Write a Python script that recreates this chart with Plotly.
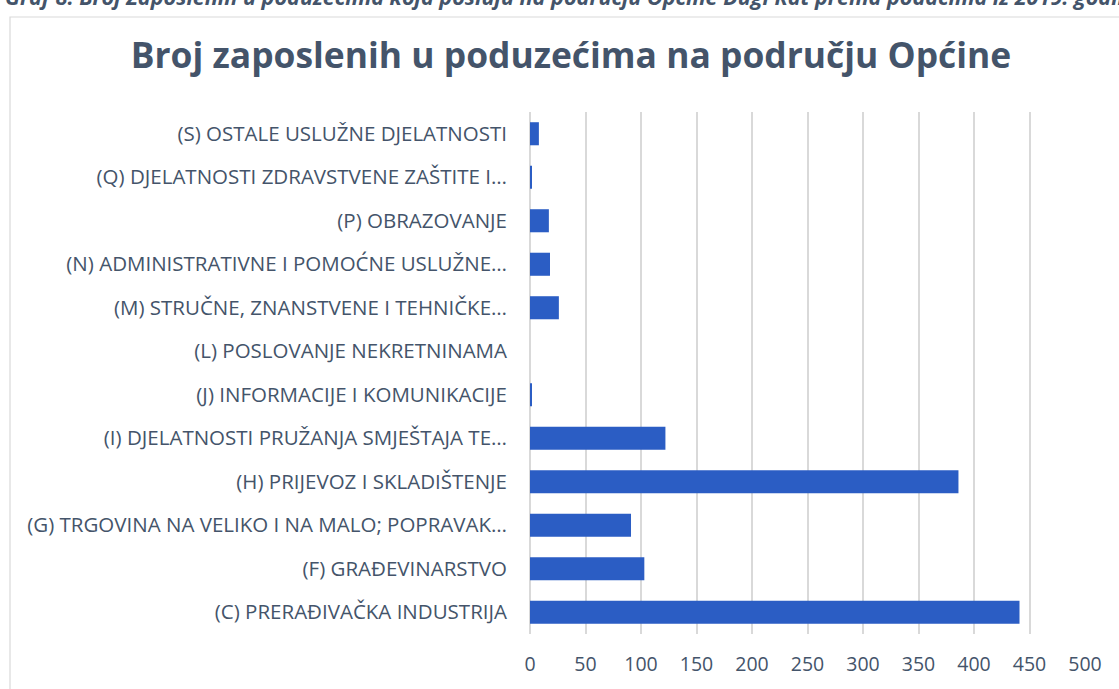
import plotly.graph_objects as go

categories = [
    "(C) PRERAĐIVAČKA INDUSTRIJA",
    "(F) GRAĐEVINARSTVO",
    "(G) TRGOVINA NA VELIKO I NA MALO; POPRAVAK…",
    "(H) PRIJEVOZ I SKLADIŠTENJE",
    "(I) DJELATNOSTI PRUŽANJA SMJEŠTAJA TE…",
    "(J) INFORMACIJE I KOMUNIKACIJE",
    "(L) POSLOVANJE NEKRETNINAMA",
    "(M) STRUČNE, ZNANSTVENE I TEHNIČKE…",
    "(N) ADMINISTRATIVNE I POMOĆNE USLUŽNE…",
    "(P) OBRAZOVANJE",
    "(Q) DJELATNOSTI ZDRAVSTVENE ZAŠTITE I…",
    "(S) OSTALE USLUŽNE DJELATNOSTI",
]
values = [441, 103, 91, 386, 122, 1, 0, 26, 18, 17, 1, 8]
x_ticks = [0, 50, 100, 150, 200, 250, 300, 350, 400, 450, 500]

title_text = "Broj zaposlenih u poduzećima na području Općine"
caption_text = ("Graf 8. Broj Zaposlenih u poduzećima koja posluju na području Općine "
                "Dugi Rat prema podacima iz 2019. godine")

TXT = "#44546A"
GRID = "#D9D9D9"
FONT = "'Open Sans', sans-serif"

W, H = 1119, 689
L, R, T, B = 530, 34, 112, 55
pw, ph = W - L - R, H - T - B

def px_x(p):
    return (p - L) / pw

def px_y(p):
    return (H - B - p) / ph

fig = go.Figure(go.Bar(
    x=values,
    y=categories,
    orientation="h",
    marker=dict(color="#2B5DC4", line=dict(width=0)),
    hoverinfo="x+y",
))

fig.update_layout(
    width=W, height=H,
    margin=dict(l=L, r=R, t=T, b=B, autoexpand=False),
    paper_bgcolor="white",
    plot_bgcolor="white",
    bargap=0.47,
    showlegend=False,
    font=dict(family=FONT, color=TXT),
    title=dict(
        text="<b>" + title_text + "</b>",
        x=px_x(571), xref="paper", xanchor="center",
        y=1 - 56 / H, yref="container", yanchor="middle",
        font=dict(size=35.4, color=TXT, family=FONT),
    ),
    xaxis=dict(
        range=[0, 500],
        tickvals=x_ticks,
        showgrid=True, gridcolor=GRID, gridwidth=1.5,
        zeroline=True, zerolinecolor=GRID, zerolinewidth=1.5,
        showline=False,
        ticks="", ticklabelstandoff=16,
        tickfont=dict(size=19.5, color=TXT, family=FONT),
        fixedrange=True,
    ),
    yaxis=dict(
        categoryorder="array", categoryarray=categories,
        showgrid=False, zeroline=False, showline=False,
        ticks="", ticklabelstandoff=22,
        tickfont=dict(size=20.5, color=TXT, family=FONT),
        fixedrange=True,
    ),
    shapes=[dict(
        type="rect", xref="paper", yref="paper", layer="below",
        x0=px_x(10), x1=px_x(1130), y0=px_y(700), y1=px_y(17),
        line=dict(color=GRID, width=1.2), fillcolor="rgba(0,0,0,0)",
    )],
    annotations=[dict(
        text="<b><i>" + caption_text + "</i></b>",
        xref="paper", yref="paper",
        x=px_x(3), y=px_y(-3.5), xanchor="left", yanchor="middle",
        showarrow=False, font=dict(size=21.6, color=TXT, family=FONT),
    )],
)

fig.write_html(
    "out.html",
    config={"displayModeBar": False},
    post_script="document.body.style.margin='0';document.body.style.overflow='hidden';",
)
